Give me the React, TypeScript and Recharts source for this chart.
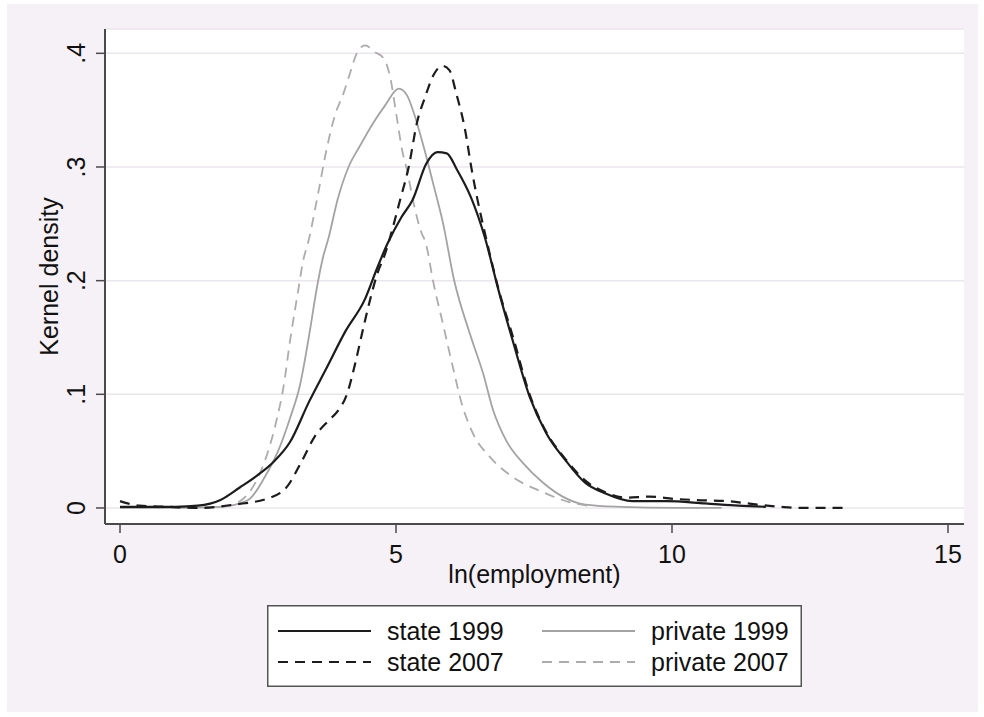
import React from "react";
import { LineChart, Line, XAxis, YAxis, CartesianGrid, Label } from "recharts";

// axis ticks
const xTicks = [0, 5, 10, 15];
const yTicks = [0, 0.1, 0.2, 0.3, 0.4];
const yTickLabels = ["0", ".1", ".2", ".3", ".4"];

// kernel density estimates
const state1999X = [0, 0.5, 1.01, 1.41, 1.82, 2.17, 2.47, 2.77, 3.08, 3.43, 3.73, 4.09, 4.44, 4.65, 4.84, 5.1, 5.3, 5.55, 5.75, 5.92, 6.1, 6.36, 6.61, 6.86, 7.11, 7.42, 7.72, 8.07, 8.43, 8.78, 9.28, 9.89, 10.6, 11.2, 11.7];
const state1999Y = [0.001, 0.001, 0.001, 0.002, 0.007, 0.018, 0.028, 0.04, 0.058, 0.094, 0.122, 0.156, 0.184, 0.21, 0.232, 0.256, 0.271, 0.303, 0.313, 0.312, 0.298, 0.273, 0.238, 0.191, 0.148, 0.098, 0.066, 0.042, 0.022, 0.013, 0.006, 0.006, 0.004, 0.002, 0.001];

const state2007X = [0, 0.35, 0.86, 1.46, 2.07, 2.72, 3.03, 3.28, 3.53, 3.78, 3.94, 4.11, 4.26, 4.41, 4.54, 4.66, 4.79, 5.08, 5.23, 5.38, 5.53, 5.67, 5.84, 5.97, 6.09, 6.25, 6.37, 6.49, 6.61, 6.86, 7.11, 7.42, 7.72, 8.07, 8.43, 8.78, 9.18, 9.59, 10.04, 10.44, 11.0, 11.55, 11.96, 12.3, 12.7, 13.2];
const state2007Y = [0.006, 0.002, 0.001, 0.0, 0.003, 0.009, 0.019, 0.04, 0.063, 0.077, 0.085, 0.1, 0.127, 0.159, 0.185, 0.206, 0.222, 0.272, 0.3, 0.339, 0.362, 0.38, 0.389, 0.385, 0.365, 0.333, 0.298, 0.268, 0.242, 0.192, 0.152, 0.1, 0.067, 0.043, 0.024, 0.014, 0.009, 0.01, 0.008, 0.007, 0.006, 0.003, 0.001, 0.0, 0.0, 0.0];

const private1999X = [0, 1.01, 1.82, 2.32, 2.62, 2.88, 3.08, 3.26, 3.44, 3.56, 3.68, 3.78, 3.94, 4.14, 4.34, 4.59, 4.8, 5.05, 5.2, 5.32, 5.5, 5.67, 5.85, 6.05, 6.34, 6.58, 6.76, 7.0, 7.31, 7.67, 8.02, 8.43, 9.08, 10.09, 10.9];
const private1999Y = [0, 0, 0.001, 0.007, 0.027, 0.052, 0.079, 0.108, 0.156, 0.192, 0.221, 0.238, 0.271, 0.3, 0.318, 0.339, 0.354, 0.369, 0.363, 0.348, 0.318, 0.286, 0.251, 0.201, 0.153, 0.118, 0.086, 0.059, 0.039, 0.022, 0.01, 0.003, 0.001, 0.0, 0.0];

const private2007X = [0, 1.01, 1.82, 2.17, 2.47, 2.65, 2.84, 2.96, 3.08, 3.23, 3.32, 3.41, 3.59, 3.74, 3.89, 4.05, 4.17, 4.29, 4.44, 4.62, 4.77, 4.89, 5.01, 5.11, 5.2, 5.32, 5.44, 5.55, 5.67, 5.85, 6.03, 6.19, 6.4, 6.7, 7.12, 7.61, 8.15, 8.48];
const private2007Y = [0, 0, 0.001, 0.006, 0.024, 0.045, 0.078, 0.106, 0.147, 0.192, 0.218, 0.234, 0.277, 0.315, 0.345, 0.365, 0.383, 0.4, 0.407, 0.401, 0.396, 0.38, 0.345, 0.315, 0.297, 0.268, 0.245, 0.231, 0.2, 0.162, 0.124, 0.092, 0.065, 0.045, 0.027, 0.015, 0.005, 0.002];

const xLabel = "ln(employment)";
const yLabel = "Kernel density";

const FONT = '"Liberation Sans", Arial, sans-serif';
const FS = 25;
const AXIS = "#4a4a4a";

const toPoints = (xs: number[], ys: number[]) => xs.map((x, i) => ({ x, y: ys[i] }));

// draw order: grey ones underneath
const series = [
  { name: "private 1999", data: toPoints(private1999X, private1999Y), color: "#a3a3a3", width: 1.8, dash: undefined },
  { name: "private 2007", data: toPoints(private2007X, private2007Y), color: "#acacac", width: 1.8, dash: "10 7" },
  { name: "state 1999", data: toPoints(state1999X, state1999Y), color: "#1c1c1c", width: 2.2, dash: undefined },
  { name: "state 2007", data: toPoints(state2007X, state2007Y), color: "#1c1c1c", width: 2.2, dash: "10 7" },
];

// legend grid: 2 columns x 2 rows
const legendOrder = ["state 1999", "private 1999", "state 2007", "private 2007"];

const XTick = (props: any) => {
  const { x, y, payload } = props;
  return (
    <text x={x} y={y} dy={30} textAnchor="middle" fontSize={FS} fill="#111" fontFamily={FONT}>
      {payload.value}
    </text>
  );
};

const YTick = (props: any) => {
  const { x, y, index } = props;
  const tx = x - 11;
  return (
    <text
      x={tx}
      y={y}
      transform={`rotate(-90, ${tx}, ${y})`}
      textAnchor="middle"
      fontSize={FS}
      fill="#111"
      fontFamily={FONT}
    >
      {yTickLabels[index]}
    </text>
  );
};

function Legend() {
  const left = 267;
  const top = 605;
  const w = 535;
  const h = 82;
  const rows = [26, 57];
  const cols = [
    { line: 11, text: 120 },
    { line: 275, text: 384 },
  ];
  return (
    <svg
      width={w}
      height={h}
      style={{ position: "absolute", left, top, overflow: "visible" }}
    >
      <rect x={0.75} y={0.75} width={w - 1.5} height={h - 1.5} fill="#fff" stroke="#555" strokeWidth={1.5} />
      {legendOrder.map((name, i) => {
        const s = series.find((d) => d.name === name)!;
        const cy = rows[Math.floor(i / 2)];
        const c = cols[i % 2];
        return (
          <g key={name}>
            <line
              x1={c.line}
              x2={c.line + 93}
              y1={cy}
              y2={cy}
              stroke={s.color}
              strokeWidth={s.width}
              strokeDasharray={s.dash}
            />
            <text x={c.text} y={cy + 9} fontSize={FS} fill="#111" fontFamily={FONT}>
              {name}
            </text>
          </g>
        );
      })}
    </svg>
  );
}

export default function App() {
  return (
    <div style={{ position: "absolute", left: 0, top: 0, width: 984, height: 717, background: "#fff" }}>
      <div style={{ position: "absolute", left: 7, top: 4, width: 971, height: 708, background: "#f5f1f6" }} />
      <div style={{ position: "absolute", left: 0, top: 0 }}>
        <LineChart width={984} height={717} margin={{ top: 29, right: 20, bottom: 133, left: 45 }}>
          <CartesianGrid
            horizontal
            vertical={false}
            fill="#ffffff"
            fillOpacity={1}
            stroke="#ebe6ee"
            strokeWidth={1.5}
          />
          <XAxis
            type="number"
            dataKey="x"
            domain={[-0.272, 15.29]}
            ticks={xTicks}
            interval={0}
            allowDataOverflow
            height={60}
            tickSize={9}
            tickMargin={0}
            axisLine={{ stroke: AXIS, strokeWidth: 2 }}
            tickLine={{ stroke: AXIS, strokeWidth: 1.5 }}
            tick={<XTick />}
          >
            <Label
              content={(p: any) => {
                const vb = p.viewBox;
                return (
                  <text x={vb.x + vb.width / 2} y={583} textAnchor="middle" fontSize={FS} fill="#111" fontFamily={FONT}>
                    {xLabel}
                  </text>
                );
              }}
            />
          </XAxis>
          <YAxis
            type="number"
            domain={[-0.0141, 0.4214]}
            ticks={yTicks}
            interval={0}
            allowDataOverflow
            width={60}
            tickSize={9}
            tickMargin={0}
            axisLine={{ stroke: AXIS, strokeWidth: 2 }}
            tickLine={{ stroke: AXIS, strokeWidth: 1.5 }}
            tick={<YTick />}
          >
            <Label
              content={(p: any) => {
                const vb = p.viewBox;
                const cy = vb.y + vb.height / 2;
                return (
                  <text
                    x={58}
                    y={cy}
                    transform={`rotate(-90, 58, ${cy})`}
                    textAnchor="middle"
                    fontSize={FS}
                    fill="#111"
                    fontFamily={FONT}
                  >
                    {yLabel}
                  </text>
                );
              }}
            />
          </YAxis>
          {series.map((s) => (
            <Line
              key={s.name}
              data={s.data}
              dataKey="y"
              name={s.name}
              type="monotone"
              stroke={s.color}
              strokeWidth={s.width}
              strokeDasharray={s.dash}
              dot={false}
              activeDot={false}
              isAnimationActive={false}
            />
          ))}
        </LineChart>
      </div>
      <Legend />
    </div>
  );
}
